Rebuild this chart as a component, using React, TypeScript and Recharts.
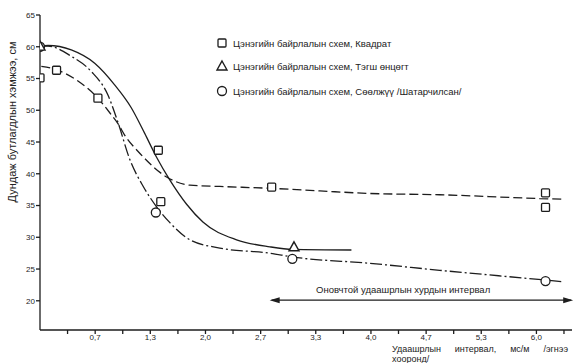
import React from "react";
import {
  ComposedChart,
  Line,
  Scatter,
  XAxis,
  YAxis,
  ReferenceLine,
  ReferenceDot,
} from "recharts";

// ---------------------------------------------------------------------------
// Data
// ---------------------------------------------------------------------------

const SERIES_NAMES = [
  "Цэнэгийн байрлалын схем, Квадрат",
  "Цэнэгийн байрлалын схем, Тэгш өнцөгт",
  "Цэнэгийн байрлалын схем, Сөөлжүү /Шатарчилсан/",
];

const Y_LABEL = "Дундаж бутлагдлын хэмжээ, см";
const X_LABEL_WORDS = ["Удаашрлын", "интервал,", "мс/м", "/эгнээ"];
const X_LABEL_LINE2 = "хооронд/";
const ARROW_LABEL = "Оновчтой удаашрлын хурдын интервал";

const X_TICKS = [0.333, 0.667, 1, 1.333, 1.667, 2, 2.333, 2.667, 3, 3.333, 3.667, 4, 4.333, 4.667, 5, 5.333, 5.667, 6, 6.333];
const X_TICK_LABELS = ["", "0,7", "", "1,3", "", "2,0", "", "2,7", "", "3,3", "", "4,0", "", "4,7", "", "5,3", "", "6,0", ""];
const Y_TICKS = [20, 25, 30, 35, 40, 45, 50, 55, 60, 65];

// measured points
const SQUARE_X = [0, 0.2, 0.7, 1.43, 1.46, 2.8, 6.11, 6.11];
const SQUARE_Y = [55.1, 56.3, 51.9, 43.7, 35.6, 37.9, 37.0, 34.7];
const TRIANGLE_X = [0, 3.07];
const TRIANGLE_Y = [60.1, 28.5];
const CIRCLE_X = [0, 1.4, 3.05, 6.11];
const CIRCLE_Y = [60.0, 33.9, 26.6, 23.1];

// fitted curves
const DASHED_X = [0.016, 0.197, 0.459, 0.7, 0.861, 0.942, 1.023, 1.208, 1.53, 1.812, 2.174, 2.798, 3.382, 3.986, 4.831, 6.039, 6.316];
const DASHED_Y = [56.9, 56.4, 54.6, 51.9, 49.3, 47.9, 46.1, 43.2, 39.5, 38.2, 38.0, 37.7, 37.3, 36.9, 36.7, 36.1, 36.0];
const SOLID_X = [0, 0.097, 0.378, 0.661, 0.902, 1.103, 1.264, 1.409, 1.57, 1.772, 1.969, 2.376, 2.778, 3.056, 3.764];
const SOLID_Y = [60.1, 60.2, 59.5, 57.4, 54.0, 50.4, 46.4, 42.6, 39.0, 35.2, 32.4, 29.6, 28.5, 28.1, 28.0];
const DASHDOT_X = [0, 0.097, 0.378, 0.62, 0.821, 0.942, 1.087, 1.248, 1.409, 1.57, 1.812, 2.174, 2.778, 3.056, 3.986, 4.831, 6.075, 6.316];
const DASHDOT_Y = [60.1, 60.1, 58.5, 56.1, 52.4, 48.1, 42.2, 38.0, 34.8, 32.3, 29.6, 28.3, 27.5, 26.9, 25.9, 24.8, 23.3, 23.0];

// optimal interval arrow
const ARROW_FROM = 2.8;
const ARROW_TO = 6.42;
const ARROW_Y = 20.1;

const zip = (xs: number[], ys: number[]) => xs.map((x, i) => ({ x, y: ys[i] }));

// ---------------------------------------------------------------------------
// Styling
// ---------------------------------------------------------------------------

const INK = "#1d1d1d";
const FONT = "'Liberation Sans', Arial, sans-serif";

function SquareMark(p: any) {
  return <rect x={p.cx - 4} y={p.cy - 4} width={8} height={8} rx={1} fill="#fff" stroke={INK} strokeWidth={1.3} />;
}
function TriangleMark(p: any) {
  const { cx, cy } = p;
  return <path d={`M${cx},${cy - 5} L${cx + 5},${cy + 4} L${cx - 5},${cy + 4} Z`} fill="#fff" stroke={INK} strokeWidth={1.4} />;
}
function CircleMark(p: any) {
  return <circle cx={p.cx} cy={p.cy} r={4.5} fill="#fff" stroke={INK} strokeWidth={1.3} />;
}
const ArrowLeft = (p: any) => <path d={`M${p.cx - 2},${p.cy} L${p.cx + 8},${p.cy - 3} L${p.cx + 8},${p.cy + 3} Z`} fill={INK} />;
const ArrowRight = (p: any) => <path d={`M${p.cx + 2},${p.cy} L${p.cx - 8},${p.cy - 3} L${p.cx - 8},${p.cy + 3} Z`} fill={INK} />;

const tickStyle = { fontSize: 8, fill: INK, fontFamily: FONT };

function LegendRow({ top, mark, text }: { top: number; mark: React.ReactNode; text: string }) {
  return (
    <div style={{ position: "absolute", left: 214, top: top - 8, height: 16, display: "flex", alignItems: "center" }}>
      <svg width={16} height={16} style={{ marginRight: 3 }}>{mark}</svg>
      <span style={{ fontSize: 9.5, color: "#222" }}>{text}</span>
    </div>
  );
}

export default function App() {
  return (
    <div style={{ position: "absolute", left: 0, top: 0, width: 576, height: 363, background: "#fff", fontFamily: FONT }}>
      <ComposedChart width={576} height={363} margin={{ top: 15, right: 4, bottom: 0, left: 0 }}>
        <XAxis
          type="number"
          dataKey="x"
          domain={[0, 6.43]}
          ticks={X_TICKS}
          interval={0}
          allowDataOverflow
          tickFormatter={(v: number) => X_TICK_LABELS[X_TICKS.indexOf(v)] ?? ""}
          tick={tickStyle}
          tickSize={4}
          tickMargin={0}
          height={33}
          stroke={INK}
          strokeWidth={1.3}
        />
        <YAxis
          type="number"
          dataKey="y"
          domain={[15.4, 65]}
          ticks={Y_TICKS}
          interval={0}
          allowDataOverflow
          tick={tickStyle}
          tickSize={4}
          tickMargin={1}
          width={40}
          stroke={INK}
          strokeWidth={1.3}
        />
        <Line data={zip(DASHED_X, DASHED_Y)} dataKey="y" type="monotone" stroke={INK} strokeWidth={1.3} strokeDasharray="9 4" dot={false} isAnimationActive={false} />
        <Line data={zip(SOLID_X, SOLID_Y)} dataKey="y" type="monotone" stroke={INK} strokeWidth={1.3} dot={false} isAnimationActive={false} />
        <Line data={zip(DASHDOT_X, DASHDOT_Y)} dataKey="y" type="monotone" stroke={INK} strokeWidth={1.3} strokeDasharray="12 3 2 3" dot={false} isAnimationActive={false} />
        <Scatter data={zip(SQUARE_X, SQUARE_Y)} dataKey="y" shape={SquareMark} isAnimationActive={false} />
        <Scatter data={zip(CIRCLE_X, CIRCLE_Y)} dataKey="y" shape={CircleMark} isAnimationActive={false} />
        <Scatter data={zip(TRIANGLE_X, TRIANGLE_Y)} dataKey="y" shape={TriangleMark} isAnimationActive={false} />
        <ReferenceLine segment={[{ x: ARROW_FROM, y: ARROW_Y }, { x: ARROW_TO, y: ARROW_Y }]} stroke={INK} strokeWidth={1.3} ifOverflow="visible" />
        <ReferenceDot x={ARROW_FROM} y={ARROW_Y} shape={ArrowLeft} ifOverflow="visible" />
        <ReferenceDot x={ARROW_TO} y={ARROW_Y} shape={ArrowRight} ifOverflow="visible" />
      </ComposedChart>

      <LegendRow top={43} text={SERIES_NAMES[0]} mark={<SquareMark cx={8} cy={8} />} />
      <LegendRow top={66} text={SERIES_NAMES[1]} mark={<TriangleMark cx={8} cy={8} />} />
      <LegendRow top={91} text={SERIES_NAMES[2]} mark={<CircleMark cx={8} cy={8} />} />

      <div style={{ position: "absolute", left: 316, top: 284, fontSize: 9.5, color: "#222", whiteSpace: "nowrap" }}>{ARROW_LABEL}</div>

      <div
        style={{
          position: "absolute",
          left: 12,
          top: 122,
          transform: "translate(-50%, -50%) rotate(-90deg)",
          fontSize: 11,
          color: "#222",
          whiteSpace: "nowrap",
        }}
      >
        {Y_LABEL}
      </div>

      <div style={{ position: "absolute", left: 392, top: 344, width: 176, display: "flex", justifyContent: "space-between", fontSize: 9, lineHeight: "10px", color: "#222" }}>
        {X_LABEL_WORDS.map((w) => (
          <span key={w}>{w}</span>
        ))}
      </div>
      <div style={{ position: "absolute", left: 392, top: 354, fontSize: 9, lineHeight: "10px", color: "#222" }}>{X_LABEL_LINE2}</div>
    </div>
  );
}
